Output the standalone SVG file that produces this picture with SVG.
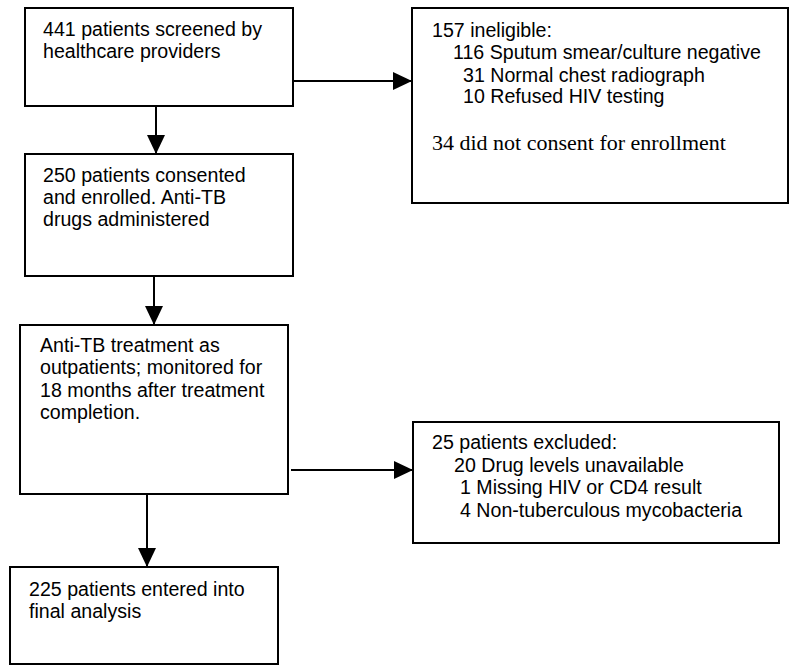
<svg xmlns="http://www.w3.org/2000/svg" width="790" height="665" viewBox="0 0 790 665">
<style>
.box{fill:#fff;stroke:#000;stroke-width:2}
.t{font-family:"Liberation Sans",Arial,sans-serif;font-size:19.6px;fill:#000}
.s{font-family:"Liberation Serif","Times New Roman",serif;font-size:22px;fill:#000}
.c{stroke:#000;stroke-width:2;fill:none}
</style>
<defs>
<marker id="ah" markerUnits="userSpaceOnUse" markerWidth="20" markerHeight="20" viewBox="0 0 20 20" refX="19" refY="10" orient="auto">
<path d="M0,1 L19,10 L0,19 Z" fill="#000"/>
</marker>
</defs>
<rect width="790" height="665" fill="#fff"/>
<g id="connectors">
<line class="c" x1="156" y1="106" x2="156" y2="154" marker-end="url(#ah)"/>
<line class="c" x1="293" y1="81" x2="412" y2="81" marker-end="url(#ah)"/>
<line class="c" x1="154" y1="276" x2="154" y2="325" marker-end="url(#ah)"/>
<line class="c" x1="291" y1="470" x2="413" y2="470" marker-end="url(#ah)"/>
<line class="c" x1="147" y1="494" x2="147" y2="567" marker-end="url(#ah)"/>
</g>
<g id="screened">
<rect class="box" x="25" y="8" width="268" height="98"/>
<text class="t" x="43" y="36">441 patients screened by</text>
<text class="t" x="43" y="58">healthcare providers</text>
</g>
<g id="ineligible">
<rect class="box" x="412" y="8" width="376" height="195"/>
<text class="t" x="432" y="37">157 ineligible:</text>
<text class="t" x="453" y="59">116 Sputum smear/culture negative</text>
<text class="t" x="463" y="82">31 Normal chest radiograph</text>
<text class="t" x="463" y="103">10 Refused HIV testing</text>
<text class="s" x="432" y="150">34 did not consent for enrollment</text>
</g>
<g id="enrolled">
<rect class="box" x="25" y="154" width="268" height="122"/>
<text class="t" x="43" y="182">250 patients consented</text>
<text class="t" x="43" y="204">and enrolled. Anti-TB</text>
<text class="t" x="43" y="226">drugs administered</text>
</g>
<g id="treatment">
<rect class="box" x="20" y="325" width="268" height="169"/>
<text class="t" x="40" y="352">Anti-TB treatment as</text>
<text class="t" x="40" y="374">outpatients; monitored for</text>
<text class="t" x="40" y="397">18 months after treatment</text>
<text class="t" x="40" y="419">completion.</text>
</g>
<g id="excluded">
<rect class="box" x="413" y="422" width="366" height="121"/>
<text class="t" x="432" y="449">25 patients excluded:</text>
<text class="t" x="454" y="472">20 Drug levels unavailable</text>
<text class="t" x="460" y="494">1 Missing HIV or CD4 result</text>
<text class="t" x="460" y="517">4 Non-tuberculous mycobacteria</text>
</g>
<g id="final">
<rect class="box" x="10" y="567" width="268" height="97"/>
<text class="t" x="29" y="596">225 patients entered into</text>
<text class="t" x="29" y="618">final analysis</text>
</g>
</svg>
